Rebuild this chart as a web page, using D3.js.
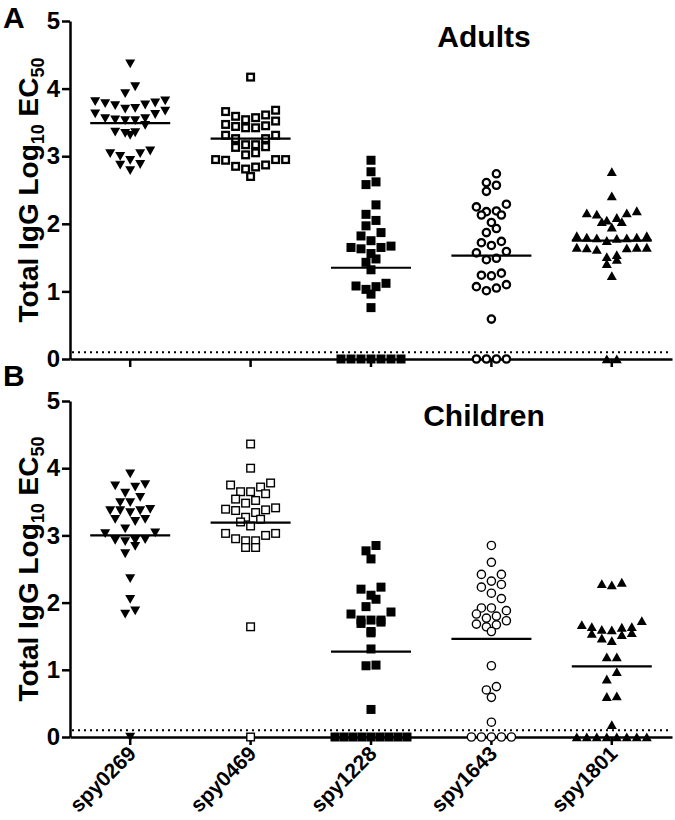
<!DOCTYPE html>
<html>
<head>
<meta charset="utf-8">
<script src="https://cdn.jsdelivr.net/npm/d3@7"></script>
<style>
  html, body { margin: 0; padding: 0; background: #fff; }
  svg { display: block; font-family: "Liberation Sans", Arial, Helvetica, sans-serif; }
</style>
</head>
<body>
<svg id="chart" width="675" height="820"></svg>
<script>
// ---------------- DATA ----------------
const categories = ["spy0269", "spy0469", "spy1228", "spy1643", "spy1801"];
const yTicks = [0, 1, 2, 3, 4, 5];
const detectionLimit = 0.1;
const panelTitles = ["Adults", "Children"];
const panelLetters = ["A", "B"];

const adults0269 = [4.37,4.03,3.93,3.81,3.78,3.75,3.70,3.71,3.76,3.79,3.82,3.67,3.62,3.63,3.56,3.53,3.53,3.54,3.56,3.46,3.35,3.31,3.34,3.36,3.08,3.04,3.00,3.04,2.94,2.88,2.87,2.79];
const adults0469 = [4.17,3.68,3.66,3.57,3.61,3.59,3.54,3.52,3.45,3.42,3.42,3.44,3.47,3.31,3.26,3.26,3.31,3.17,3.14,3.17,3.13,3.05,3.02,2.95,2.95,2.94,2.95,2.87,2.84,2.81,2.85,2.70];
const adults1228 = [2.94,2.77,2.58,2.62,2.28,2.14,2.05,1.97,1.87,1.82,1.67,1.65,1.63,1.65,1.75,1.56,1.48,1.43,1.32,1.12,1.07,0.96,1.03,1.08,0.76,0,0,0,0,0,0,0];
const adults1643 = [2.74,2.61,2.57,2.48,2.25,2.29,2.18,2.13,2.13,2.19,2.02,1.87,1.93,1.72,1.68,1.74,1.57,1.59,1.47,1.49,1.24,1.23,1.27,1.07,1.01,1.05,1.10,0.59,0,0,0,0];
const adults1801 = [2.77,2.41,2.16,2.16,2.19,2.14,2.09,2.03,2.03,2.05,1.95,1.82,1.80,1.79,1.78,1.75,1.79,1.80,1.82,1.65,1.65,1.64,1.62,1.64,1.65,1.54,1.51,1.47,1.41,1.23,0,0];

const children0269 = [3.92,3.76,3.72,3.74,3.63,3.57,3.49,3.49,3.37,3.37,3.34,3.37,3.39,3.24,3.21,3.24,3.10,3.03,3.04,2.93,2.91,2.94,2.93,2.84,2.73,2.36,2.05,1.88,1.83,0];
const children0469 = [4.36,4.00,3.78,3.72,3.75,3.65,3.62,3.65,3.52,3.48,3.54,3.41,3.38,3.34,3.37,3.39,3.24,3.27,3.20,3.14,2.95,2.92,3.03,3.03,2.92,3.00,2.82,2.82,1.64,0];
const children1228 = [2.85,2.77,2.65,2.20,2.23,2.11,2.05,1.94,1.83,1.86,1.74,1.69,1.74,1.71,1.74,1.55,1.57,1.31,1.06,1.07,0.41,0,0,0,0,0,0,0,0,0];
const children1643 = [2.85,2.60,2.42,2.42,2.32,2.27,2.23,2.14,2.06,1.92,1.83,1.80,1.88,1.92,1.77,1.73,1.67,1.57,1.64,1.68,1.06,0.75,0.70,0.59,0.22,0,0,0,0,0];
const children1801 = [2.30,2.26,2.28,1.73,1.60,1.67,1.64,1.63,1.64,1.59,1.54,1.52,1.55,1.43,1.47,1.19,1.19,0.97,0.86,0.61,0.60,0.18,0,0,0,0,0,0,0,0];

const medianAdults = [3.49, 3.26, 1.35, 1.53, 1.75];
const medianChildren = [3.00, 3.19, 1.27, 1.46, 1.05];

const markerTypes = ["triDown", "openSquare", "filledSquare", "openCircle", "triUp"];

// ---------------- LAYOUT ----------------
const svg = d3.select("#chart");
const FONT = "\"Liberation Sans\", Arial, Helvetica, sans-serif";

const panels = [
  { series: [adults0269, adults0469, adults1228, adults1643, adults1801], medians: medianAdults,
    top: 21, bottom: 359, titleY: 47, letterY: 28, showLabels: false, openStroke: 2.3 },
  { series: [children0269, children0469, children1228, children1643, children1801], medians: medianChildren,
    top: 401, bottom: 737, titleY: 426, letterY: 386, showLabels: true, openStroke: 1.4 }
];

const x = d3.scaleBand().domain(categories).range([70, 672]).padding(0);
const cx = c => x(c) + x.bandwidth() / 2;

// Prism-like scatter: bin points into horizontal rows, spread each row around the centre
function scatterRows(values, y, center, binH, gap) {
  const pts = values.map((v, i) => ({ v, y: y(v), i }))
    .sort((a, b) => a.y - b.y || a.i - b.i);
  const rows = [];
  let cur = null;
  for (const p of pts) {
    if (!cur || p.y - cur.y0 >= binH) { cur = { y0: p.y, pts: [] }; rows.push(cur); }
    cur.pts.push(p);
  }
  const out = [];
  for (const r of rows) {
    const n = r.pts.length;
    const sp = n > 1 ? Math.min(gap, 72 / (n - 1)) : gap;
    const offs = d3.range(n).map(j => (j - (n - 1) / 2) * sp);
    const slots = offs.slice().sort((a, b) => Math.abs(a) - Math.abs(b) || a - b);
    const byLow = r.pts.slice().sort((a, b) => b.y - a.y || a.i - b.i);
    byLow.forEach((p, k) => out.push({ v: p.v, x: center + slots[k], y: p.y }));
  }
  return out;
}

function drawMarker(g, type, px, py, openStroke) {
  if (type === "triDown") {
    g.append("path").attr("d", `M${px-5},${py-4.2}L${px+5},${py-4.2}L${px},${py+4.6}Z`).attr("fill", "#000");
  } else if (type === "triUp") {
    g.append("path").attr("d", `M${px-5},${py+4.2}L${px+5},${py+4.2}L${px},${py-4.6}Z`).attr("fill", "#000");
  } else if (type === "filledSquare") {
    g.append("rect").attr("x", px - 4.5).attr("y", py - 4.5).attr("width", 9).attr("height", 9).attr("fill", "#000");
  } else if (type === "openSquare") {
    const s = 9 - openStroke;
    g.append("rect").attr("x", px - s / 2).attr("y", py - s / 2).attr("width", s).attr("height", s)
      .attr("fill", "#fff").attr("stroke", "#000").attr("stroke-width", openStroke);
  } else if (type === "openCircle") {
    g.append("circle").attr("cx", px).attr("cy", py).attr("r", 4.8 - openStroke / 2)
      .attr("fill", "#fff").attr("stroke", "#000").attr("stroke-width", openStroke);
  }
}

panels.forEach((P, pi) => {
  const y = d3.scaleLinear().domain([0, 5]).range([P.bottom, P.top]);
  const g = svg.append("g");

  g.append("line").attr("x1", 72).attr("x2", 672)
    .attr("y1", y(detectionLimit)).attr("y2", y(detectionLimit))
    .attr("stroke", "#000").attr("stroke-width", 2).attr("stroke-dasharray", "2,4");

  const ya = g.append("g").attr("transform", "translate(70,0)")
    .call(d3.axisLeft(y).tickValues(yTicks).tickFormat(d3.format("d")).tickSize(8).tickSizeOuter(0).tickPadding(2));
  ya.select(".domain").attr("stroke-width", 2.5);
  ya.selectAll(".tick line").attr("stroke-width", 2.5);
  ya.selectAll(".tick text").attr("font-family", FONT).attr("font-weight", "bold").attr("font-size", 24).attr("fill", "#000");

  const xa = g.append("g").attr("transform", `translate(0,${P.bottom})`)
    .call(d3.axisBottom(x).tickSize(8).tickSizeOuter(0).tickFormat(""));
  xa.select(".domain").attr("stroke-width", 2.5);
  xa.selectAll(".tick line").attr("stroke-width", 2.5);
  xa.selectAll(".tick text").remove();
  if (P.showLabels) {
    const c45 = Math.SQRT1_2;
    g.selectAll("text.xlab").data(categories).enter().append("text")
      .attr("class", "xlab")
      .attr("transform", d => `matrix(${c45},${-c45},${c45},${c45},${cx(d) + 7},${P.bottom + 18})`)
      .attr("text-anchor", "end")
      .attr("font-family", FONT).attr("font-weight", "bold").attr("font-size", 21).attr("fill", "#000")
      .text(d => d);
  }

  P.series.forEach((vals, ci) => {
    const c = categories[ci];
    const pts = scatterRows(vals, y, cx(c), 10, 10);
    const mg = g.append("g");
    pts.forEach(p => drawMarker(mg, markerTypes[ci], p.x, p.y, P.openStroke));
    g.append("line").attr("x1", cx(c) - 40).attr("x2", cx(c) + 40)
      .attr("y1", y(P.medians[ci])).attr("y2", y(P.medians[ci]))
      .attr("stroke", "#000").attr("stroke-width", 2.2);
  });

  const yt = g.append("text").attr("transform", `translate(38,${(P.top + P.bottom) / 2}) rotate(-90)`)
    .attr("text-anchor", "middle").attr("font-family", FONT).attr("font-weight", "bold").attr("font-size", 28).attr("fill", "#000");
  yt.append("tspan").text("Total IgG Log");
  yt.append("tspan").attr("font-size", 18).attr("dy", 6).text("10");
  yt.append("tspan").attr("dy", -6).text(" EC");
  yt.append("tspan").attr("font-size", 18).attr("dy", 6).text("50");

  g.append("text").attr("x", 484).attr("y", P.titleY).attr("text-anchor", "middle")
    .attr("font-family", FONT).attr("font-weight", "bold").attr("font-size", 30).attr("fill", "#000")
    .text(panelTitles[pi]);

  g.append("text").attr("x", 3).attr("y", P.letterY)
    .attr("font-family", FONT).attr("font-weight", "bold").attr("font-size", 30).attr("fill", "#000")
    .text(panelLetters[pi]);
});
</script>
</body>
</html>
